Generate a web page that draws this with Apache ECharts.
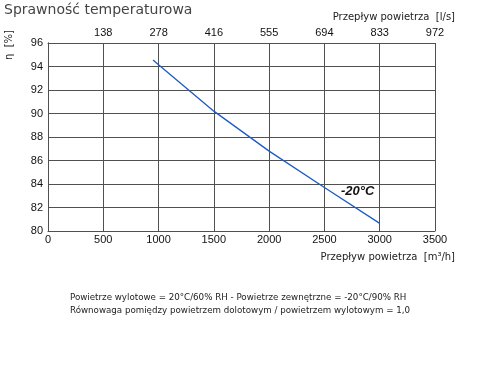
<!DOCTYPE html>
<html><head><meta charset="utf-8">
<script src="https://cdn.jsdelivr.net/npm/echarts@6/dist/echarts.min.js"></script>
<style>html,body{margin:0;padding:0;background:#fff}#c{width:480px;height:390px}</style>
</head><body><div id="c"></div>
<script>
const flowM3h = [950, 1000, 1500, 2000, 2500, 3000];
const efficiency = [94.55, 94.15, 90.2, 86.8, 83.7, 80.65];
const bottomTicks = [0, 500, 1000, 1500, 2000, 2500, 3000, 3500];
const topTickLabels = ['', '138', '278', '416', '555', '694', '833', '972'];
const yTicks = [80, 82, 84, 86, 88, 90, 92, 94, 96];
const seriesName = '-20°C';

const chart = echarts.init(document.getElementById('c'));
const gridCol = '#505050';
const font = 'Liberation Sans, Arial, sans-serif';
chart.setOption({
  animation: false,
  grid: {left: 48, right: 45, top: 43, bottom: 159},
  xAxis: [{
    type: 'value', min: bottomTicks[0], max: bottomTicks[bottomTicks.length-1], interval: 500, position: 'bottom',
    axisLine: {lineStyle: {color: gridCol}}, axisTick: {show: false},
    splitLine: {show: true, lineStyle: {color: gridCol, width: 1}},
    axisLabel: {color: '#111', fontFamily: font, fontSize: 11, margin: 3, showMinLabel: true, showMaxLabel: true,
      formatter: v => String(v)}
  }, {
    type: 'value', min: bottomTicks[0], max: bottomTicks[bottomTicks.length-1], interval: 500, position: 'top',
    axisLine: {show: true, lineStyle: {color: gridCol}}, axisTick: {show: false}, splitLine: {show: false},
    axisLabel: {color: '#111', fontFamily: font, fontSize: 11, margin: 5,
      formatter: v => topTickLabels[bottomTicks.indexOf(v)] || ''}
  }],
  yAxis: [{
    type: 'value', min: yTicks[0], max: yTicks[yTicks.length-1], interval: 2,
    axisLine: {show: true, lineStyle: {color: gridCol}}, axisTick: {show: false},
    splitLine: {show: true, lineStyle: {color: gridCol, width: 1}},
    axisLabel: {color: '#111', fontFamily: font, fontSize: 11, margin: 5}
  }, {
    type: 'value', min: yTicks[0], max: yTicks[yTicks.length-1], interval: 2, position: 'right',
    axisLine: {show: true, lineStyle: {color: gridCol}}, axisTick: {show: false}, splitLine: {show: false},
    axisLabel: {show: false}
  }],
  series: [{
    name: seriesName, type: 'line', showSymbol: false, smooth: false,
    data: flowM3h.map((x, i) => [x, efficiency[i]]),
    lineStyle: {color: '#1c5cc0', width: 1.3}
  }],
  graphic: [
    {type: 'text', left: 4, top: 3, style: {text: 'Sprawność temperaturowa', font: '14px DejaVu Sans', fill: '#444'}},
    {type: 'text', right: 25, top: 12, style: {text: 'Przepływ powietrza  [l/s]', font: '10px DejaVu Sans', fill: '#222'}},
    {type: 'text', right: 25, top: 252, style: {text: 'Przepływ powietrza  [m³/h]', font: '10px DejaVu Sans', fill: '#222'}},
    {type: 'text', x: 4, y: 60, rotation: Math.PI/2, style: {text: 'η  [%]', font: '10px DejaVu Sans', fill: '#222'}},
    {type: 'text', left: 341, top: 185, style: {text: seriesName, font: 'italic bold 13px Liberation Sans', fill: '#111'}},
    {type: 'text', left: 70, top: 291, style: {text: 'Powietrze wylotowe = 20°C/60% RH - Powietrze zewnętrzne = -20°C/90% RH\nRównowaga pomiędzy powietrzem dolotowym / powietrzem wylotowym = 1,0', font: '8.7px DejaVu Sans', lineHeight: 13, fill: '#222'}}
  ]
});
</script></body></html>
